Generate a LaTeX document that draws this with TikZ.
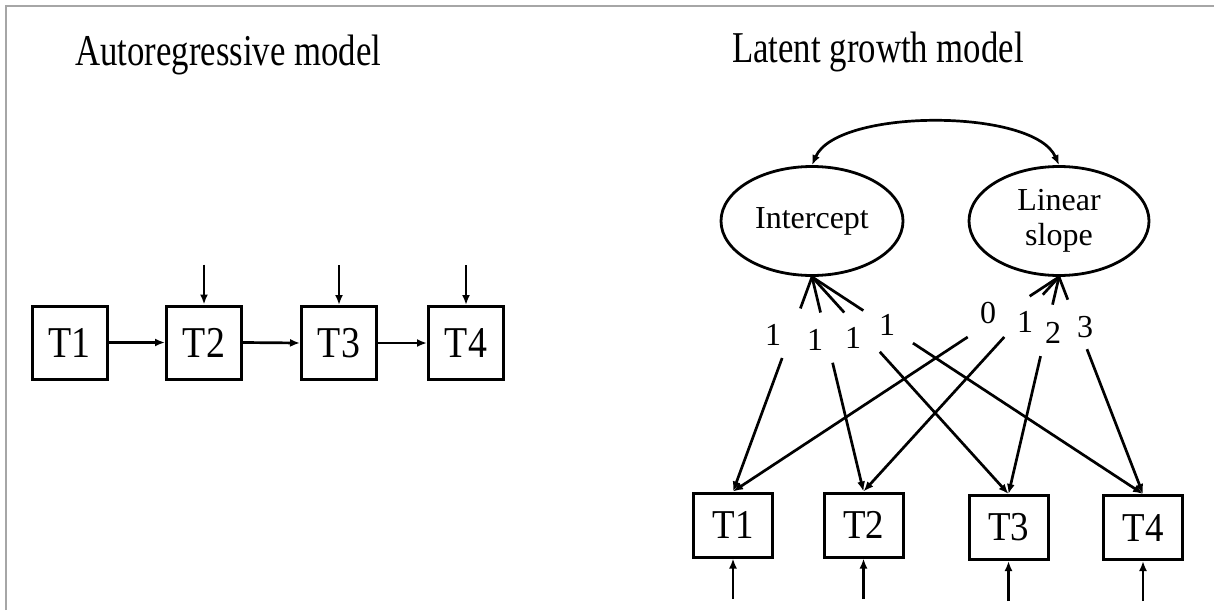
\documentclass[tikz,border=0pt]{standalone}
\usepackage{fontspec}
\usepackage{graphicx}
\setmainfont{Liberation Serif}
\usetikzlibrary{arrows.meta,calc,positioning,shapes.geometric}
% narrowed text: \hsq{factor}{text}
\newcommand{\hsq}[2]{\scalebox{#1}[1]{#2}}

\begin{document}
\begin{tikzpicture}[x=1pt,y=-1pt,
  lw/.style={line width=2.7pt},
  tip/.style={-{Latex[length=10pt,width=8pt]}},
  arr/.style={lw,tip},
  frameline/.style={line width=2pt,draw=black!35},
  abox/.style={draw,line width=3pt,minimum width=75pt,minimum height=73pt,inner sep=0pt,font=\fontsize{44}{48}\selectfont},
  gbox/.style={draw,line width=3pt,minimum width=79pt,minimum height=64pt,inner sep=0pt,font=\fontsize{41}{45}\selectfont},
  latent/.style={draw,ellipse,line width=2.8pt,minimum width=182pt,minimum height=109pt,inner sep=0pt,align=center,font=\fontsize{32}{35}\selectfont},
  heading/.style={font=\fontsize{44}{48}\selectfont,anchor=base west,inner sep=0pt},
  load/.style={font=\fontsize{32}{35}\selectfont,inner sep=0pt}
]
\useasboundingbox (0,0) rectangle (1214,610);
\fill[white] (0,0) rectangle (1214,610);

% frame edges
\coordinate (fa) at (6,610);
\coordinate (fb) at (6,6);
\coordinate (fc) at (1214,6);
\draw[frameline] (fa) -- (fb) -- (fc);

% headings
\node[heading] (h1) at (75,65) {\hsq{0.79}{Autoregressive model}};
\node[heading] (h2) at (732,63) {\hsq{0.79}{Latent growth model}};

% autoregressive chain
\node[abox] (A1) at (69.5,342.5) {\hsq{0.86}{T1}};
\node[abox] (A2) at (204,342.5) {\hsq{0.86}{T2}};
\node[abox] (A3) at (339,343) {\hsq{0.86}{T3}};
\node[abox] (A4) at (466,343) {\hsq{0.86}{T4}};
\draw[arr] (A1.east) -- (A2.west);
\draw[arr] (A2.east) -- (A3.west);
\draw[arr] (A3.east) -- (A4.west);
\foreach \k in {2,3,4}{
  \coordinate[above=40pt of A\k.north] (ea\k);
  \draw[arr] (ea\k) -- (A\k.north);
}

% latent growth model
\node[latent] (I) at (812,221) {Intercept};
\node[latent,minimum width=180pt] (S) at (1059,221) {Linear\\slope};
\draw[lw,{Latex[length=10pt,width=8pt]}-{Latex[length=10pt,width=8pt]}]
  (I.north) .. controls +(25,-57) and +(-25,-57) .. (S.north);

\node[gbox] (G1) at (733,525) {\hsq{0.9}{T1}};
\node[gbox] (G2) at (863.5,525) {\hsq{0.9}{T2}};
\node[gbox] (G3) at (1008.5,527.5) {\hsq{0.9}{T3}};
\node[gbox] (G4) at (1143,527.5) {\hsq{0.9}{T4}};
\foreach \k in {1,2,3,4}{
  \coordinate[below=40pt of G\k.south] (eg\k);
  \draw[arr] (eg\k) -- (G\k.south);
}

% intercept loadings
\foreach \k/\a/\b in {1/0.147/0.378, 2/0.166/0.40, 3/0.164/0.345, 4/0.155/0.305}{
  \coordinate (iu\k) at ($(I.south)!\a!(G\k.north)$);
  \coordinate (il\k) at ($(I.south)!\b!(G\k.north)$);
  \draw[lw] (I.south) -- (iu\k);
  \draw[arr] (il\k) -- (G\k.north);
}
% slope loadings
\foreach \k/\a/\b in {1/0.09/0.28, 2/0.083/0.28, 3/0.128/0.365, 4/0.105/0.333}{
  \coordinate (su\k) at ($(S.south)!\a!(G\k.north)$);
  \coordinate (sl\k) at ($(S.south)!\b!(G\k.north)$);
  \draw[lw] (S.south) -- (su\k);
  \draw[arr] (sl\k) -- (G\k.north);
}

\node[load] (li1) at (773,335) {1};
\node[load] (li2) at (815,340) {1};
\node[load] (li3) at (853,338) {1};
\node[load] (li4) at (887,325) {1};
\node[load] (ls1) at (988,313) {0};
\node[load] (ls2) at (1025,322) {1};
\node[load] (ls3) at (1053,333) {2};
\node[load] (ls4) at (1085,327) {3};
\end{tikzpicture}
\end{document}
